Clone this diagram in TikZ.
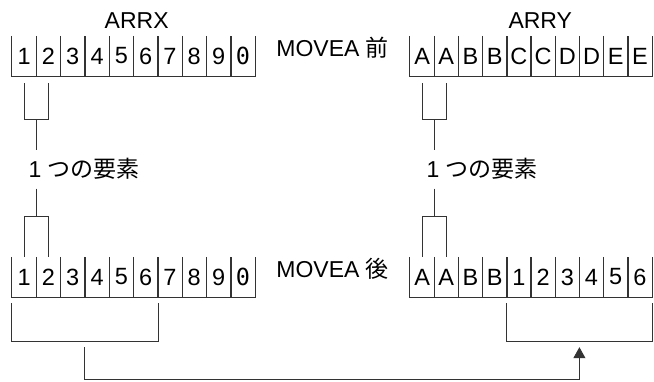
\documentclass[tikz,border=0pt]{standalone}
\usepackage{fontspec}
\setmainfont{Liberation Sans}
\newfontfamily\jp{Noto Sans CJK JP}
\newfontfamily\monozero{DejaVu Sans Mono}
\usetikzlibrary{arrows.meta, positioning, calc}
\newcommand{\dzero}{{\monozero 0}}
\tikzset{
  cell/.style={inner sep=0pt, minimum width=24.3pt, minimum height=40pt, font=\fontsize{23.5}{28}\selectfont},
  wall/.style={draw=black!80, line width=0.8pt},
  lbl/.style={inner sep=0pt, font=\fontsize{23}{28}\selectfont},
}

\begin{document}
\begin{tikzpicture}[x=1pt, y=1pt]
  \useasboundingbox (0,0) rectangle (654,382);
  % ARRX before and after
  \foreach \v [count=\i] in {1,2,3,4,5,6,7,8,9,\dzero}
    \node[cell] (xa\i) at ({12+24.3*(\i-0.5)},326) {\v};
  \foreach \v [count=\i] in {1,2,3,4,5,6,7,8,9,\dzero}
    \node[cell] (xb\i) at ({12+24.3*(\i-0.5)},105) {\v};
  % ARRY before and after
  \foreach \v [count=\i] in {A,A,B,B,C,C,D,D,E,E}
    \node[cell] (ya\i) at ({410+24.2*(\i-0.5)},326) {\v};
  \foreach \v [count=\i] in {A,A,B,B,1,2,3,4,5,6}
    \node[cell] (yb\i) at ({410+24.2*(\i-0.5)},105) {\v};
  \foreach \a in {xa,xb,ya,yb}
    \foreach \i in {1,...,10}
      \draw[wall] (\a\i.north west) -- (\a\i.south west) -- (\a\i.south east) -- (\a\i.north east);

  % titles
  \node[lbl] (arrx) at ([xshift=3pt, yshift=15pt]xa5.north east) {ARRX};
  \node[lbl] (arry) at ([xshift=9pt, yshift=15pt]ya5.north east) {ARRY};
  \node[lbl, anchor=base west] (before) at ([xshift=21pt, yshift=-1pt]xa10.east) {MOVEA {\jp 前}};
  \node[lbl, anchor=base west] (after) at ([xshift=21pt, yshift=-1pt]xb10.east) {MOVEA {\jp 後}};

  % one element brackets, left
  \draw[wall] ([yshift=-7pt]xa1.south) -- ++(0,-36pt) -| ([yshift=-7pt]xa2.south);
  \draw[wall] (xb1.north) -- ++(0,40pt) -| (xb2.north);
  \coordinate (xtop) at ([yshift=-43pt]xa1.south east);
  \coordinate (xbot) at ([yshift=40pt]xb1.north east);
  \node[lbl, anchor=base west, inner ysep=8.5pt] (elemx) at ([xshift=-8pt]xtop |- 0,204) {1 {\jp つの要素}};
  \draw[wall] (xtop) -- (elemx.north -| xtop);
  \draw[wall] (elemx.south -| xbot) -- (xbot);

  % one element brackets, right
  \draw[wall] ([yshift=-7pt]ya1.south) -- ++(0,-36pt) -| ([yshift=-7pt]ya2.south);
  \draw[wall] (yb1.north) -- ++(0,40pt) -| (yb2.north);
  \coordinate (ytop) at ([yshift=-43pt]ya1.south east);
  \coordinate (ybot) at ([yshift=40pt]yb1.north east);
  \node[lbl, anchor=base west, inner ysep=8.5pt] (elemy) at ([xshift=-8pt]ytop |- 0,204) {1 {\jp つの要素}};
  \draw[wall] (ytop) -- (elemy.north -| ytop);
  \draw[wall] (elemy.south -| ybot) -- (ybot);

  % moved block
  \draw[wall] ([yshift=-6pt]xb1.south west) -- ++(0,-38pt) -| ([yshift=-6pt]xb6.south east);
  \draw[wall] ([yshift=-6pt]yb5.south west) -- ++(0,-38pt) -| ([yshift=-6pt]yb10.south east);
  \coordinate (src) at ([yshift=-50pt]xb4.south west);
  \coordinate (dst) at ($(yb5.south west)!0.5!(yb10.south east)+(0,-50pt)$);
  \draw[wall, -{Triangle[width=12pt, length=11pt]}] (src) -- ++(0,-32pt) -| (dst);
\end{tikzpicture}
\end{document}
